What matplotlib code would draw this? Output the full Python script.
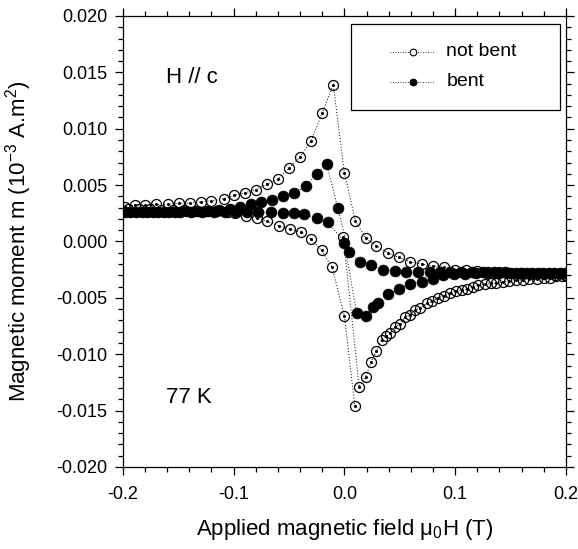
import matplotlib
matplotlib.use("Agg")
import matplotlib.pyplot as plt
from matplotlib.patches import Rectangle
from matplotlib.ticker import MultipleLocator, FormatStrFormatter

plt.rcParams.update({
    "font.family": ["Liberation Sans", "DejaVu Sans"],
    "mathtext.default": "regular",
    "axes.unicode_minus": False,
})

# ── not bent (open circles), in measurement order ────────────────────────────
# first leg: start near zero field, up to +0.2 T
nb_up_x = [-0.001, 0.0134, 0.0194, 0.024, 0.029, 0.0336, 0.038, 0.0415, 0.0456,
           0.050, 0.0546, 0.059, 0.0637, 0.068, 0.0742, 0.079, 0.0847, 0.090,
           0.0953, 0.101, 0.106, 0.111, 0.116, 0.121, 0.127, 0.132, 0.137,
           0.143, 0.149, 0.155, 0.161, 0.167, 0.1735, 0.180, 0.1856, 0.191,
           0.196, 0.200]
nb_up_y = [0.0004, -0.0129, -0.0120, -0.0107, -0.0097, -0.0087, -0.0084,
           -0.0081, -0.0076, -0.0073, -0.0067, -0.0065, -0.0061, -0.0059,
           -0.0055, -0.0053, -0.0050, -0.0048, -0.0046, -0.0044, -0.0043,
           -0.0042, -0.0040, -0.0039, -0.0038, -0.0037, -0.0037, -0.0036,
           -0.0035, -0.0034, -0.0034, -0.0033, -0.0033, -0.0032, -0.0032,
           -0.0031, -0.0031, -0.0031]
# +0.2 T down to -0.2 T
nb_down_x = [0.20, 0.19, 0.18, 0.17, 0.16, 0.15, 0.14, 0.13, 0.12, 0.11, 0.10,
             0.09, 0.08, 0.07, 0.059, 0.049, 0.039, 0.029, 0.0194, 0.010, 0.0,
             -0.010, -0.020, -0.030, -0.040, -0.050, -0.060, -0.070, -0.080,
             -0.090, -0.0995, -0.109, -0.120, -0.129, -0.1395, -0.149, -0.159,
             -0.170, -0.180, -0.189, -0.198]
nb_down_y = [-0.0030, -0.0030, -0.0029, -0.0029, -0.0028, -0.0028, -0.0027,
             -0.0027, -0.0026, -0.0025, -0.0025, -0.0023, -0.0022, -0.0020,
             -0.0018, -0.0014, -0.0010, -0.0004, 0.0003, 0.0018, 0.0061,
             0.0139, 0.0114, 0.0089, 0.0075, 0.0065, 0.0055, 0.0051, 0.0046,
             0.0043, 0.0041, 0.0038, 0.0036, 0.0035, 0.0034, 0.0034, 0.0033,
             0.0033, 0.0032, 0.0032, 0.0031]
# -0.2 T back up to the minimum
nb_back_x = [-0.195, -0.185, -0.175, -0.165, -0.155, -0.145, -0.135, -0.125,
             -0.115, -0.105, -0.099, -0.089, -0.079, -0.070, -0.059, -0.049,
             -0.0387, -0.030, -0.0206, -0.011, 0.0, 0.0095]
nb_back_y = [0.0029, 0.0029, 0.0029, 0.0028, 0.0028, 0.0028, 0.0027, 0.0027,
             0.0027, 0.0026, 0.0025, 0.0023, 0.0021, 0.0018, 0.0014, 0.0011,
             0.0008, 0.0002, -0.0008, -0.0023, -0.0066, -0.0146]

# ── bent (filled circles) ────────────────────────────────────────────────────
b_down_x = [0.195, 0.185, 0.175, 0.165, 0.155, 0.145, 0.135, 0.125, 0.115,
            0.105, 0.095, 0.086, 0.077, 0.0667, 0.056, 0.0456, 0.035, 0.024,
            0.014, 0.004, -0.006, -0.016, -0.025, -0.035, -0.045, -0.055,
            -0.065, -0.075, -0.084, -0.094, -0.103, -0.113, -0.123, -0.133,
            -0.143, -0.153, -0.163, -0.173, -0.183, -0.193]
b_down_y = [-0.0028, -0.0028, -0.0028, -0.0028, -0.0028, -0.0027, -0.0027,
            -0.0027, -0.0027, -0.0027, -0.0027, -0.0027, -0.0027, -0.0027,
            -0.0027, -0.0026, -0.0025, -0.0021, -0.0018, -0.0009, 0.0030,
            0.0069, 0.0060, 0.0049, 0.0043, 0.0040, 0.0037, 0.0035, 0.0033,
            0.0031, 0.0029, 0.0028, 0.0027, 0.0027, 0.0027, 0.0026, 0.0026,
            0.0026, 0.0026, 0.0026]
b_up_x = [-0.198, -0.188, -0.178, -0.168, -0.158, -0.148, -0.138, -0.128,
          -0.118, -0.108, -0.098, -0.088, -0.078, -0.066, -0.055, -0.045,
          -0.036, -0.025, -0.0146, 0.0, 0.011, 0.0194, 0.0255, 0.030, 0.0396,
          0.0495, 0.059, 0.0697, 0.0796, 0.089, 0.099, 0.109, 0.119, 0.129,
          0.139, 0.149, 0.159, 0.169, 0.179, 0.189, 0.199]
b_up_y = [0.0026, 0.0026, 0.0026, 0.0026, 0.0026, 0.0026, 0.0026, 0.0026,
          0.0026, 0.0026, 0.0026, 0.0026, 0.0026, 0.0026, 0.0025, 0.0025,
          0.0024, 0.0021, 0.0017, -0.0001, -0.0063, -0.0066, -0.0058,
          -0.0055, -0.0047, -0.0042, -0.0038, -0.0036, -0.0033, -0.0030,
          -0.0029, -0.0029, -0.0028, -0.0028, -0.0028, -0.0028, -0.0028,
          -0.0028, -0.0028, -0.0028, -0.0028]

nb_x = nb_up_x + nb_down_x + nb_back_x
nb_y = nb_up_y + nb_down_y + nb_back_y
b_x = b_down_x + b_up_x
b_y = b_down_y + b_up_y

DOTTED = (0, (1, 2))

fig = plt.figure(figsize=(5.78, 5.49), dpi=100)
ax = fig.add_axes([0.2123, 0.1494, 0.7669, 0.8215])

ax.plot(nb_x, nb_y, color="black", linestyle=DOTTED, linewidth=0.7,
        marker="o", markersize=7.2, markerfacecolor="none",
        markeredgecolor="black", markeredgewidth=0.9)
ax.plot(nb_x, nb_y, linestyle="none", marker="o", markersize=1.2,
        color="black")
ax.plot(b_x, b_y, color="black", linestyle=DOTTED, linewidth=0.7,
        marker="o", markersize=7.8, markerfacecolor="black",
        markeredgecolor="black", markeredgewidth=0.5)

ax.set_xlim(-0.2, 0.2)
ax.set_ylim(-0.020, 0.020)
ax.xaxis.set_major_locator(MultipleLocator(0.1))
ax.xaxis.set_minor_locator(MultipleLocator(0.02))
ax.yaxis.set_major_locator(MultipleLocator(0.005))
ax.yaxis.set_minor_locator(MultipleLocator(0.001))
ax.xaxis.set_major_formatter(FormatStrFormatter("%.1f"))
ax.yaxis.set_major_formatter(FormatStrFormatter("%.3f"))
ax.tick_params(which="both", direction="out", top=True, right=True,
               width=0.9, labelsize=13)
ax.tick_params(which="major", length=6)
ax.tick_params(which="minor", length=3.5)
ax.tick_params(axis="y", pad=5)
ax.tick_params(axis="x", pad=8)
for s in ax.spines.values():
    s.set_linewidth(0.9)

ax.set_xlabel("Applied magnetic field μ$_0$H (T)", fontsize=16)
ax.set_ylabel("Magnetic moment m (10$^{-3}$ A.m$^2$)", fontsize=16)
ax.xaxis.set_label_coords(0.5, -0.112)
ax.yaxis.set_label_coords(-0.2, 0.5)

ax.text(-0.161, 0.0145, "H // c", fontsize=16, va="center", ha="left")
ax.text(-0.161, -0.0138, "77 K", fontsize=16, va="center", ha="left")

# legend drawn by hand in axes coordinates to match the wide framed box
tr = ax.transAxes
ax.add_patch(Rectangle((0.515, 0.792), 0.471, 0.19, transform=tr,
                       facecolor="white", edgecolor="black", linewidth=0.9,
                       zorder=5))
for yy, face, label in ((0.921, "white", "not bent"), (0.854, "black", "bent")):
    ax.plot([0.603, 0.705], [yy, yy], transform=tr, color="black",
            linestyle=DOTTED, linewidth=0.6, zorder=6)
    ax.plot([0.654], [yy], transform=tr, linestyle="none", marker="o",
            markersize=4.8, markerfacecolor=face, markeredgecolor="black",
            markeredgewidth=0.8, zorder=7)
    ax.text(0.730, yy, label, transform=tr, fontsize=14, va="center",
            ha="left", zorder=7)

fig.savefig("out.png", dpi=100)
